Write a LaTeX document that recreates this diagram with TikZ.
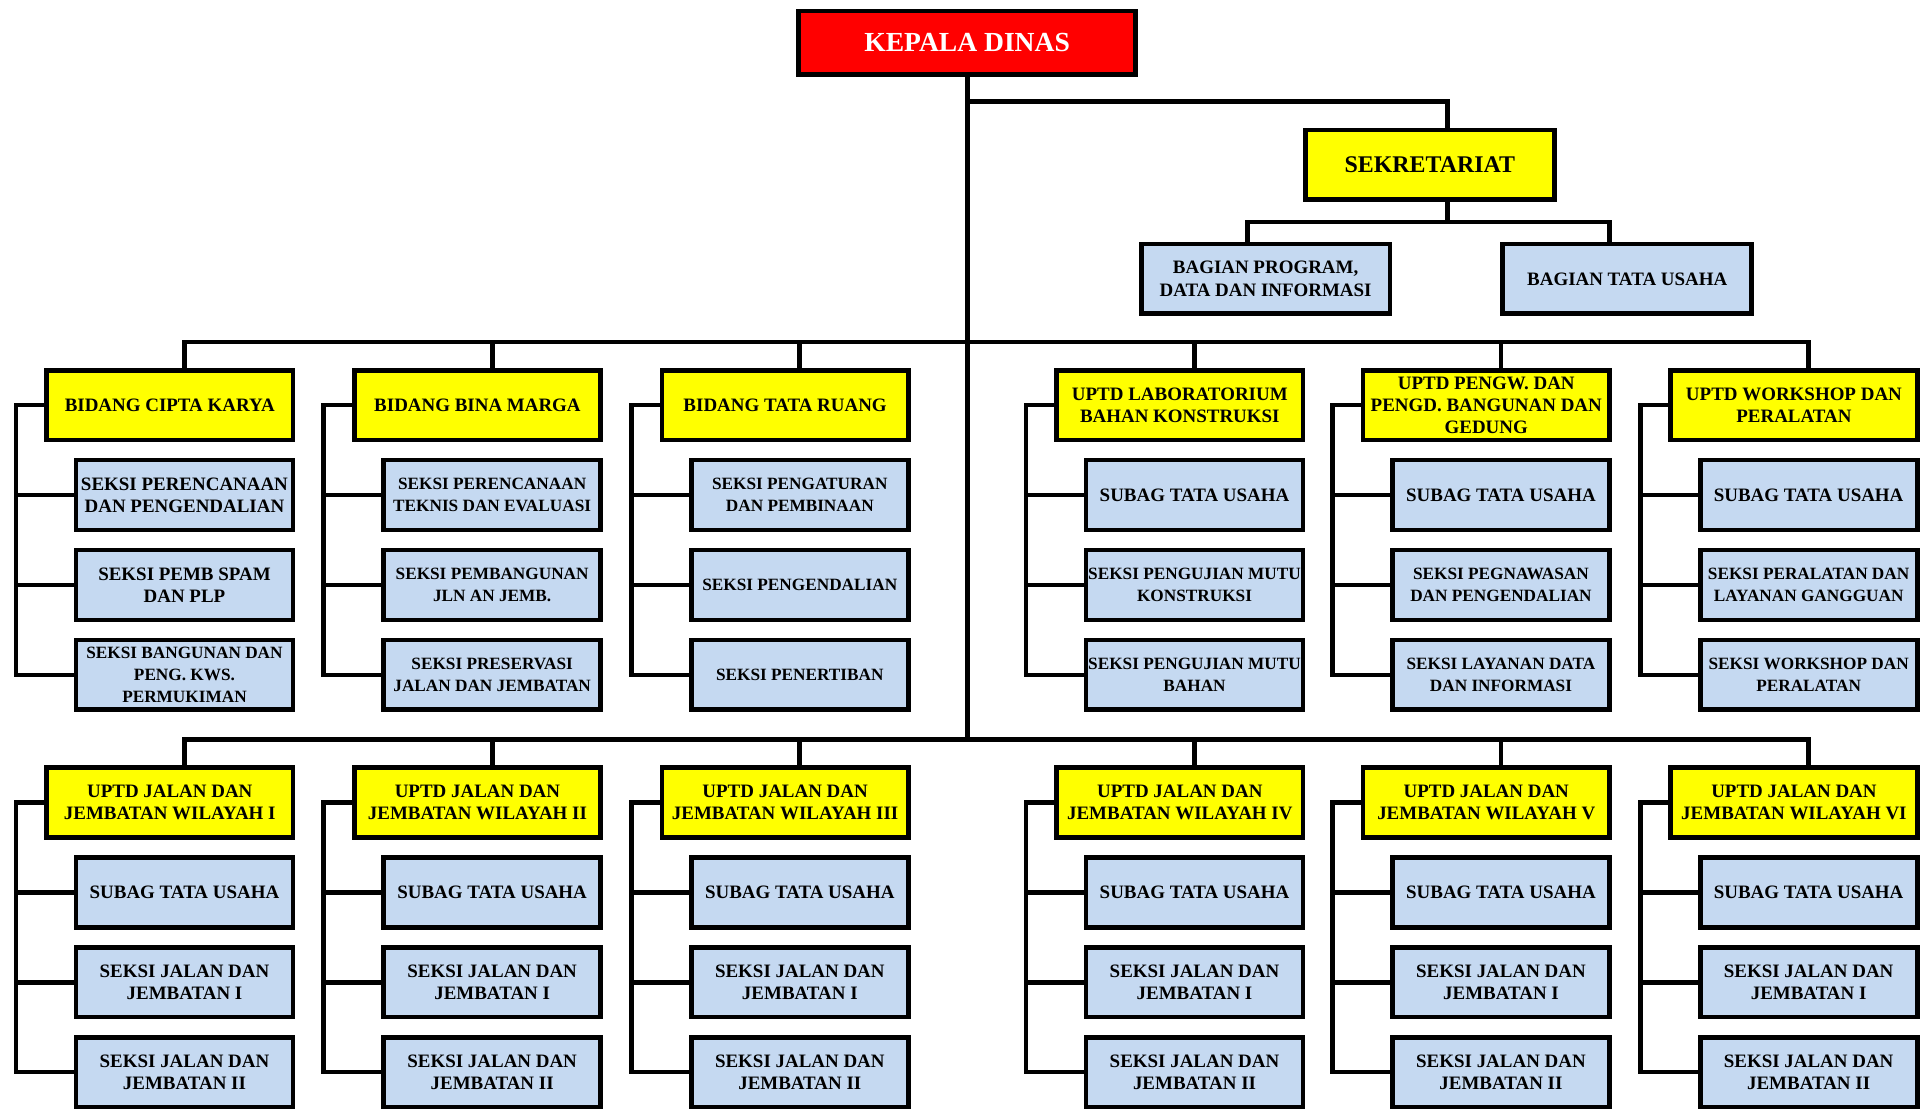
\documentclass[tikz,border=0pt]{standalone}
\usepackage{fontspec}
\setmainfont{Liberation Serif}
\usepackage{xcolor}
\definecolor{subblue}{RGB}{197,217,241}
\definecolor{headyellow}{RGB}{255,255,0}
\definecolor{kdred}{RGB}{255,0,0}
\usepackage{tikz}
\usetikzlibrary{positioning}

\begin{document}
\begin{tikzpicture}[
    box/.style={rectangle, draw, line width=2.2pt, align=center,
      inner xsep=1pt, inner ysep=1pt},
    kepala/.style={box, fill=kdred, text=white, minimum width=5.5cm,
      minimum height=1.04cm, font=\bfseries\fontsize{12.8}{14}\selectfont},
    head/.style={box, fill=headyellow, minimum width=4.02cm,
      minimum height=1.14cm, font=\bfseries\fontsize{8.8}{10.3}\selectfont},
    sub/.style={box, fill=subblue, minimum width=3.54cm,
      minimum height=1.14cm, font=\bfseries\fontsize{8.8}{10.3}\selectfont},
    small/.style={font=\bfseries\fontsize{8.0}{10.3}\selectfont},
    conn/.style={draw, line width=2.2pt, line cap=rect}
]
\useasboundingbox (0,0) rectangle (31.36,-18.12);

%% Pimpinan dan sekretariat
\node[kepala] (kd) at (15.78,-0.70) {KEPALA DINAS};
\node[head, minimum width=4.06cm, font=\bfseries\fontsize{11.1}{13}\selectfont]
  (sek) at (23.33,-2.69) {SEKRETARIAT};
\node[sub, minimum width=4.06cm] (bp) at (20.65,-4.55)
  {BAGIAN PROGRAM,\\DATA DAN INFORMASI};
\node[sub, minimum width=4.06cm] (bt) at (26.55,-4.55) {BAGIAN TATA USAHA};

%% Baris 1 : bidang dan UPTD
\node[head] (ck) at (2.77,-6.61) {BIDANG CIPTA KARYA};
\node[sub, below=0.25cm of ck.south east, anchor=north east] (ck-1)
  {SEKSI PERENCANAAN\\DAN PENGENDALIAN};
\node[sub, below=0.25cm of ck-1] (ck-2) {SEKSI PEMB SPAM\\DAN PLP};
\node[sub, small, below=0.25cm of ck-2] (ck-3)
  {SEKSI BANGUNAN DAN\\PENG. KWS.\\PERMUKIMAN};

\node[head] (bm) at (7.79,-6.61) {BIDANG BINA MARGA};
\node[sub, small, below=0.25cm of bm.south east, anchor=north east] (bm-1)
  {SEKSI PERENCANAAN\\TEKNIS DAN EVALUASI};
\node[sub, small, below=0.25cm of bm-1] (bm-2) {SEKSI PEMBANGUNAN\\JLN AN JEMB.};
\node[sub, small, below=0.25cm of bm-2] (bm-3)
  {SEKSI PRESERVASI\\JALAN DAN JEMBATAN};

\node[head] (tr) at (12.81,-6.61) {BIDANG TATA RUANG};
\node[sub, small, below=0.25cm of tr.south east, anchor=north east] (tr-1)
  {SEKSI PENGATURAN\\DAN PEMBINAAN};
\node[sub, small, below=0.25cm of tr-1] (tr-2) {SEKSI PENGENDALIAN};
\node[sub, small, below=0.25cm of tr-2] (tr-3) {SEKSI PENERTIBAN};

\node[head] (lab) at (19.25,-6.61) {UPTD LABORATORIUM\\BAHAN KONSTRUKSI};
\node[sub, below=0.25cm of lab.south east, anchor=north east] (lab-1)
  {SUBAG TATA USAHA};
\node[sub, small, below=0.25cm of lab-1] (lab-2)
  {SEKSI PENGUJIAN MUTU\\KONSTRUKSI};
\node[sub, small, below=0.25cm of lab-2] (lab-3)
  {SEKSI PENGUJIAN MUTU\\BAHAN};

\node[head] (pgw) at (24.25,-6.61)
  {UPTD PENGW. DAN\\PENGD. BANGUNAN DAN\\GEDUNG};
\node[sub, below=0.25cm of pgw.south east, anchor=north east] (pgw-1)
  {SUBAG TATA USAHA};
\node[sub, small, below=0.25cm of pgw-1] (pgw-2)
  {SEKSI PEGNAWASAN\\DAN PENGENDALIAN};
\node[sub, small, below=0.25cm of pgw-2] (pgw-3)
  {SEKSI LAYANAN DATA\\DAN INFORMASI};

\node[head] (ws) at (29.27,-6.61) {UPTD WORKSHOP DAN\\PERALATAN};
\node[sub, below=0.25cm of ws.south east, anchor=north east] (ws-1)
  {SUBAG TATA USAHA};
\node[sub, small, below=0.25cm of ws-1] (ws-2)
  {SEKSI PERALATAN DAN\\LAYANAN GANGGUAN};
\node[sub, small, below=0.25cm of ws-2] (ws-3)
  {SEKSI WORKSHOP DAN\\PERALATAN};

%% Baris 2 : UPTD jalan dan jembatan
\foreach \w/\x/\r in {w1/2.77/I, w2/7.79/II, w3/12.81/III,
                      w4/19.25/IV, w5/24.25/V, w6/29.27/VI} {
  \node[head] (\w) at (\x,-13.09) {UPTD JALAN DAN\\JEMBATAN WILAYAH \r};
  \node[sub, below=0.25cm of \w.south east, anchor=north east] (\w-1)
    {SUBAG TATA USAHA};
  \node[sub, below=0.25cm of \w-1] (\w-2) {SEKSI JALAN DAN\\JEMBATAN I};
  \node[sub, below=0.25cm of \w-2] (\w-3) {SEKSI JALAN DAN\\JEMBATAN II};
}

%% Garis komando
\coordinate (sekj) at (15.78,-1.66);
\coordinate (sbus) at (23.62,-3.62);
\coordinate (bus1) at (15.78,-5.58);
\coordinate (bus2) at (15.78,-12.06);
\draw[conn] (kd.south) -- (bus2);
\draw[conn] (sekj) -| ([xshift=0.29cm]sek.north);
\draw[conn] ([xshift=0.29cm]sek.south) -- (sbus);
\draw[conn] ([xshift=-0.29cm]bp.north) |- (sbus) -| ([xshift=-0.29cm]bt.north);

\draw[conn] (ck-1.north |- bus1) -- (ws-1.north |- bus1);
\draw[conn] (w1-1.north |- bus2) -- (w6-1.north |- bus2);
\foreach \h in {ck,bm,tr,lab,pgw,ws}
  \draw[conn] (\h-1.north |- bus1) -- (\h-1.north |- \h.north);
\foreach \h in {w1,w2,w3,w4,w5,w6}
  \draw[conn] (\h-1.north |- bus2) -- (\h-1.north |- \h.north);

\foreach \h in {ck,bm,tr,lab,pgw,ws,w1,w2,w3,w4,w5,w6} {
  \coordinate (\h-x) at ([xshift=-0.46cm]\h.west);
  \draw[conn] (\h.west) -- (\h-x) |- (\h-3.west);
  \draw[conn] (\h-1.west) -- (\h-1.west -| \h-x);
  \draw[conn] (\h-2.west) -- (\h-2.west -| \h-x);
}
\end{tikzpicture}
\end{document}
